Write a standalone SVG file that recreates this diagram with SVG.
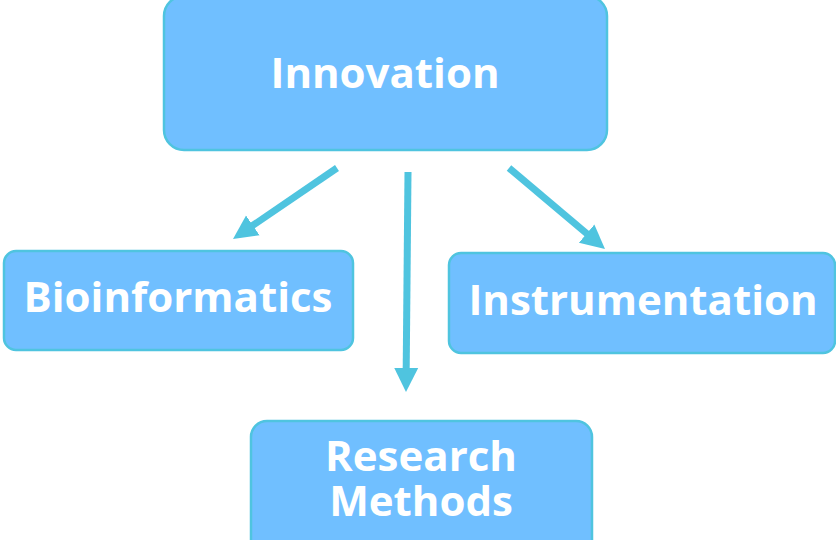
<svg xmlns="http://www.w3.org/2000/svg" width="836" height="540" viewBox="0 0 836 540">
  <style>
    .box { fill: #70bfff; stroke: #4fc4df; stroke-width: 2.5; }
    .label { font-family: "Open Sans", "Noto Sans", sans-serif; font-weight: 700; fill: #ffffff; text-anchor: middle; font-size: 42px; }
    .edge { stroke: #4fc4df; stroke-width: 7; fill: none; }
  </style>
  <defs>
    <!-- arrowhead: the line stops at the head's base, the head carries on to the tip -->
    <marker id="head" markerUnits="userSpaceOnUse" markerWidth="25" markerHeight="26" refX="1" refY="12.5" orient="auto">
      <path d="M0,0.5 L24,12.5 L0,24.5 Z" fill="#4fc4df"/>
    </marker>
  </defs>

  <g id="edges">
    <path class="edge" d="M337,168 L252,226" marker-end="url(#head)"/>
    <path class="edge" d="M408,172 L406.2,369" marker-end="url(#head)"/>
    <path class="edge" d="M509,168 L587.4,234.2" marker-end="url(#head)"/>
  </g>

  <g id="innovation">
    <rect class="box" x="164" y="-4" width="443" height="154" rx="20"/>
    <text class="label" x="385" y="88">Innovation</text>
  </g>

  <g id="bioinformatics">
    <rect class="box" x="4" y="251" width="349" height="99" rx="12"/>
    <text class="label" x="178" y="312">Bioinformatics</text>
  </g>

  <g id="instrumentation">
    <rect class="box" x="449" y="253" width="386" height="100" rx="12"/>
    <text class="label" x="643" y="315">Instrumentation</text>
  </g>

  <g id="research-methods">
    <rect class="box" x="251" y="421" width="341" height="140" rx="16"/>
    <text class="label" x="421" y="471">Research<tspan x="421" dy="45">Methods</tspan></text>
  </g>
</svg>
